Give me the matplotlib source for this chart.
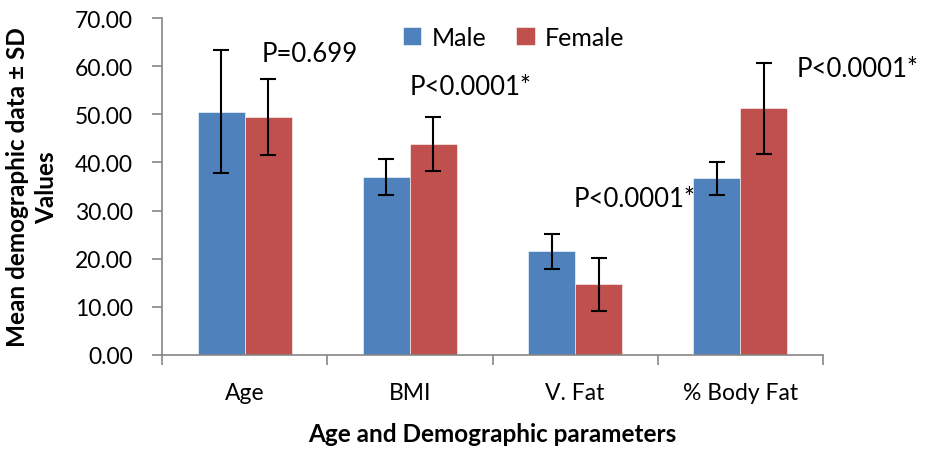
import matplotlib

matplotlib.use("Agg")
import matplotlib.pyplot as plt
import numpy as np

plt.rcParams["font.family"] = ["Lato", "DejaVu Sans"]

CATEGORIES = ["Age", "BMI", "V. Fat", "% Body Fat"]
MALE_MEAN = [50.55, 36.9, 21.5, 36.7]
MALE_SD = [12.75, 3.75, 3.6, 3.5]
FEMALE_MEAN = [49.4, 43.8, 14.65, 51.25]
FEMALE_SD = [7.9, 5.65, 5.55, 9.4]
P_LABELS = ["P=0.699", "P<0.0001*", "P<0.0001*", "P<0.0001*"]
# label anchor (data coords, left / centre)
P_POS = [(0.60, 62.6), (1.50, 55.8), (2.49, 32.4), (3.84, 59.5)]

BLUE = "#4F81BD"
RED = "#C0504D"
GRAY = "#868686"

fig = plt.figure(figsize=(9.25, 4.52), dpi=100)
ax = fig.add_axes([162 / 925, 1 - 355.7 / 452, 661 / 925, 336.4 / 452])

x = np.arange(len(CATEGORIES)) + 0.5
w = 0.285
err_kw = dict(ecolor="black", elinewidth=1.5, capsize=6, capthick=1.5)
ax.bar(x - w / 2, MALE_MEAN, w, yerr=MALE_SD, color=BLUE, label="Male",
       edgecolor="white", linewidth=0.4, error_kw=err_kw)
ax.bar(x + w / 2, FEMALE_MEAN, w, yerr=FEMALE_SD, color=RED, label="Female",
       edgecolor="white", linewidth=0.4, error_kw=err_kw)

for (px, py), lab in zip(P_POS, P_LABELS):
    ax.text(px, py, lab, ha="left", va="center", fontsize=18.5)

ax.set_xlim(0, len(CATEGORIES))
ax.set_ylim(0, 70)
ax.set_yticks(np.arange(0, 71, 10))
ax.set_yticklabels([f"{v:.2f}" for v in range(0, 71, 10)], fontsize=16.5)
ax.set_xticks(np.arange(0, len(CATEGORIES) + 1))
ax.set_xticklabels([])
ax.set_xticks(x, minor=True)
ax.set_xticklabels(CATEGORIES, minor=True, fontsize=16.5)
ax.tick_params(axis="x", which="major", length=7, color=GRAY, width=1.2)
ax.tick_params(axis="x", which="minor", length=0, pad=20)
ax.tick_params(axis="y", length=7, color=GRAY, width=1.2, pad=14)

for s in ("top", "right"):
    ax.spines[s].set_visible(False)
for s in ("left", "bottom"):
    ax.spines[s].set_color(GRAY)
    ax.spines[s].set_linewidth(1.2)

ax.set_ylabel("Mean demographic data ± SD\nValues", fontsize=17.5,
              fontweight="bold", labelpad=12, linespacing=1.3)
ax.set_xlabel("Age and Demographic parameters", fontsize=17.5,
              fontweight="bold", labelpad=13)

ax.legend(loc="upper left", bbox_to_anchor=(0.33, 1.045), ncols=2,
          frameon=False, fontsize=18, handlelength=0.75, handleheight=0.75,
          handletextpad=0.4, columnspacing=1.2)

fig.savefig("out.png", dpi=100)
